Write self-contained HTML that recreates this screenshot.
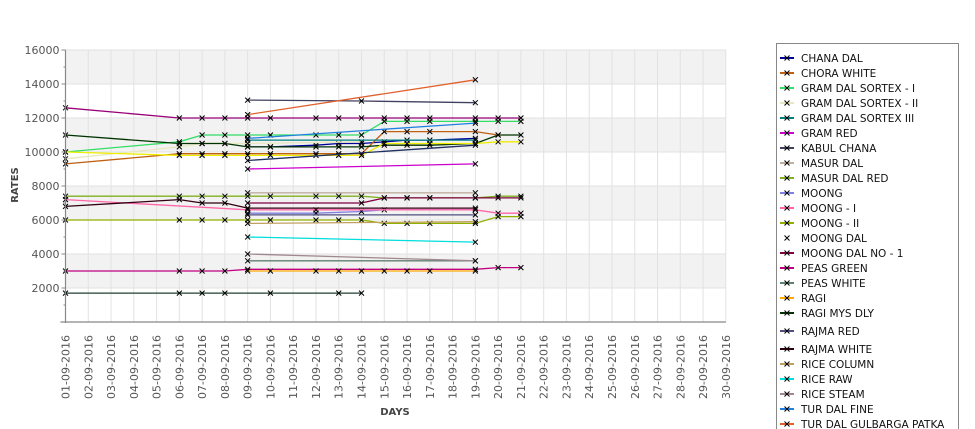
<!DOCTYPE html>
<html><head><meta charset="utf-8"><style>
body{margin:0;background:#fff;}
svg{display:block;font-family:"DejaVu Sans","Liberation Sans",sans-serif;}
</style></head><body>
<svg id="chart" width="975" height="429" viewBox="0 0 975 429" xmlns="http://www.w3.org/2000/svg">
<g id="bands"></g>
<g id="grid"></g>
<g id="series"></g>
<g id="axes"></g>
<text transform="translate(18,185) rotate(-90)" text-anchor="middle" font-size="10" font-weight="bold" fill="#444">RATES</text>
<text x="395" y="415" text-anchor="middle" font-size="10" font-weight="bold" fill="#444">DAYS</text>
<g id="legend"></g>
</svg>
<script>
const yTicks=[2000,4000,6000,8000,10000,12000,14000,16000];
const dayLabels=[];for(let d=1;d<=30;d++)dayLabels.push((d<10?'0':'')+d+'-09-2016');
const seriesNames=["CHANA DAL","CHORA WHITE","GRAM DAL SORTEX  - I","GRAM DAL SORTEX - II","GRAM DAL SORTEX III","GRAM RED","KABUL CHANA","MASUR DAL","MASUR DAL RED","MOONG","MOONG - I","MOONG - II","MOONG DAL","MOONG DAL NO - 1","PEAS GREEN","PEAS WHITE","RAGI","RAGI MYS DLY","RAJMA RED","RAJMA WHITE","RICE COLUMN","RICE RAW","RICE STEAM","TUR DAL FINE","TUR DAL GULBARGA PATKA","TUR DAL A","TUR DAL B","TUR DAL C","TUR DAL D"];
const seriesColors=["#000099","#c06010","#33dd66","#e8e8c0","#008080","#cc00cc","#404060","#c0b0a0","#80b020","#8080e0","#ff66aa","#90b000","#ffffff","#800040","#c00080","#608070","#ffaa00","#003300","#505080","#300010","#c0a060","#00dddd","#a08890","#2080e0","#e0602c","#eeee00","#203060","#204030","#990077"];
const seriesDays=[
[9,10,12,13,14,15,16,17,19],
[1,6,7,8,9,10,12,13,14,15,16,17,19,20],
[1,6,7,8,9,10,12,13,14,15,16,17,19,20,21],
[1,6,7,8,9,14],
[9,19],
[9,19],
[9,14,19],
[9,19],
[1,6,7,8,9,10,12,13,14,15,16,17,19,20,21],
[9,12,14,15,19],
[1,9,12,19,20,21],
[1,6,7,8,9,10,12,13,14,15,16,17,19,20,21],
[],
[9,14,15,16,17,19,20,21],
[1,6,7,8,9,19,20,21],
[9,19],
[9,10,12,13,14,15,16,17,19],
[1,6,7,8,9,10,12,13,14,15,16,17,19,20,21],
[9,19],
[1,6,7,8,9,19],
[9,19],
[9,19],
[9,19],
[9,19],
[9,19],
[1,6,7,8,9,10,12,13,14,15,16,17,19,20,21],
[9,19],
[1,6,7,8,10,13,14],
[1,6,7,8,9,10,12,13,14,15,16,17,19,20,21]
];
const seriesValues=[
[10300,10300,10400,10500,10500,10600,10700,10700,10800],
[9300,9900,9900,9900,9900,9900,9900,9900,9900,11200,11200,11200,11200,11000],
[10000,10600,11000,11000,11000,11000,11000,11000,11000,11800,11800,11800,11800,11800,11800],
[9600,10300,10500,10500,10500,10600],
[10700,10700],
[9000,9300],
[13050,13000,12900],
[7600,7600],
[7400,7400,7400,7400,7400,7400,7400,7400,7400,7300,7300,7300,7300,7400,7400],
[6400,6400,6500,6600,6600],
[7200,6600,6600,6600,6400,6400],
[6000,6000,6000,6000,6000,6000,6000,6000,6000,5800,5800,5800,5800,6200,6200],
[],
[7000,7000,7300,7300,7300,7300,7300,7300],
[3000,3000,3000,3000,3100,3100,3200,3200],
[3600,3600],
[3000,3000,3000,3000,3000,3000,3000,3000,3000],
[11000,10500,10500,10500,10300,10300,10300,10300,10300,10400,10400,10400,10500,11000,11000],
[6300,6300],
[6800,7200,7000,7000,6700,6700],
[5800,5900],
[5000,4700],
[4000,3600],
[10800,11700],
[12200,14250],
[10000,9800,9800,9800,9800,9800,9800,9800,9800,10500,10500,10500,10500,10600,10600],
[9500,10400],
[1700,1700,1700,1700,1700,1700,1700],
[12600,12000,12000,12000,12000,12000,12000,12000,12000,12000,12000,12000,12000,12000,12000]
];
const legendCount=25;
const legendY=[58,73,88,103,118,133,148,163,178,193,208,223,238,253,268,283,298,313,331,349,364,379,394,409,424];

const NS="http://www.w3.org/2000/svg";
const X0=65.5,DX=22.77,YB=322,YT=50,VMAX=16000;
function xs(d){return X0+(d-1)*DX;}
function ys(v){return YB-(v/VMAX)*(YB-YT);}
function mk(tag,attrs,parent){const e=document.createElementNS(NS,tag);for(const k in attrs)e.setAttribute(k,attrs[k]);parent.appendChild(e);return e;}
const bands=document.getElementById('bands'),grid=document.getElementById('grid'),ser=document.getElementById('series'),axes=document.getElementById('axes'),leg=document.getElementById('legend');
mk('rect',{x:X0,y:YT,width:xs(30)-X0,height:YB-YT,fill:'#ffffff'},bands);
for(let v=2000;v<VMAX;v+=4000){const r=mk('rect',{x:X0,y:ys(v+2000),width:xs(30)-X0,height:ys(v)-ys(v+2000),fill:'#f2f2f2'},bands);

}
for(let d=2;d<=30;d++){const l=mk('line',{x1:xs(d),x2:xs(d),y1:YT,y2:YB,stroke:'#e2e2e2','stroke-width':1},grid);

}
yTicks.forEach(v=>{const l=mk('line',{x1:X0,x2:xs(30),y1:ys(v),y2:ys(v),stroke:'#e2e2e2','stroke-width':1},grid);


const t=mk('text',{x:X0-6,y:ys(v)+4,'text-anchor':'end','font-size':11,fill:'#555'},axes);t.textContent=v;


mk('line',{x1:X0-4,x2:X0,y1:ys(v),y2:ys(v),stroke:'#888'},axes);
mk('line',{x1:X0-2,x2:X0,y1:ys(v-1000),y2:ys(v-1000),stroke:'#888'},axes);});
mk('line',{x1:X0,x2:X0,y1:YT,y2:YB+1,stroke:'#888','stroke-width':1.2},axes);
mk('line',{x1:X0-5,x2:xs(30),y1:YB,y2:YB,stroke:'#888','stroke-width':1.2},axes);
dayLabels.forEach((s,i)=>{const x=xs(i+1);const t=mk('text',{transform:`translate(${x+4},335) rotate(-90)`,'text-anchor':'end','font-size':11,fill:'#555'},axes);t.textContent=s;

});
function cross(g,x,y,c){mk('path',{d:`M${x-2.5} ${y-2.5}L${x+2.5} ${y+2.5}M${x-2.5} ${y+2.5}L${x+2.5} ${y-2.5}`,stroke:c,'stroke-width':1,fill:'none'},g);}
seriesDays.forEach((days,i)=>{if(!days.length)return;const g=mk('g',{},ser);


const pts=days.map((d,j)=>xs(d).toFixed(1)+','+ys(seriesValues[i][j]).toFixed(1)).join(' ');
const pl=mk('polyline',{points:pts,fill:'none',stroke:seriesColors[i],'stroke-width':1.3},g);


days.forEach((d,j)=>cross(g,xs(d),ys(seriesValues[i][j]),'#000'));});
mk('rect',{x:776.5,y:43.5,width:182,height:400,fill:'#fff',stroke:'#888'},leg);
for(let i=0;i<legendCount;i++){const y=legendY[i];const g=mk('g',{},leg);


mk('line',{x1:780,x2:794,y1:y,y2:y,stroke:seriesColors[i]==='#ffffff'?'#fff':seriesColors[i],'stroke-width':2},g);
cross(g,787,y,'#000');
const t=mk('text',{x:801,y:y+4,'font-size':10.5,fill:'#111'},g);t.textContent=seriesNames[i];}
</script>
</body></html>
